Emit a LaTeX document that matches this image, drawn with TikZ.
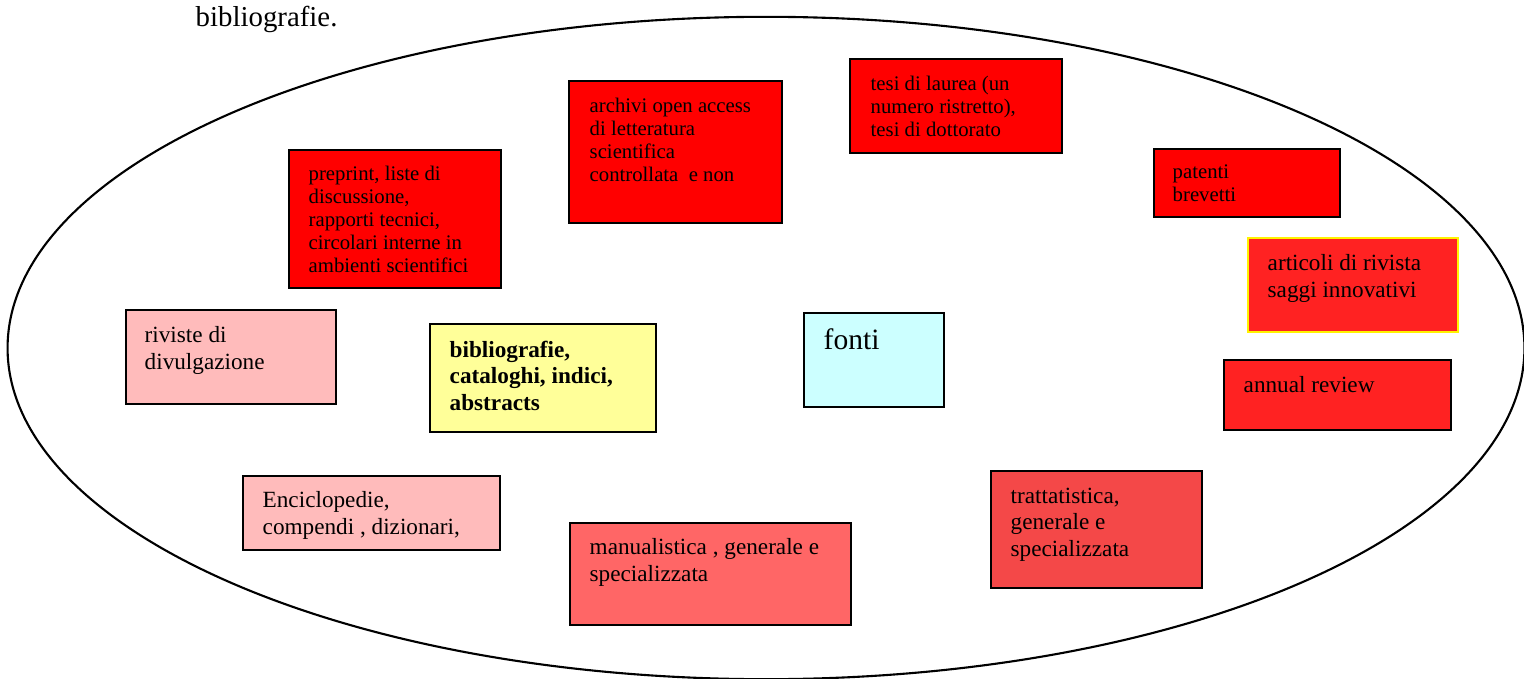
\documentclass[tikz,border=0pt]{standalone}
\usepackage{fontspec}
\setmainfont{Liberation Serif}
\definecolor{rosso}{RGB}{255,0,0}
\definecolor{rossochiaro}{RGB}{255,34,34}
\definecolor{rossotratt}{RGB}{244,72,72}
\definecolor{rossomanu}{RGB}{255,102,102}
\definecolor{rosa}{RGB}{255,187,187}
\definecolor{giallo}{RGB}{255,255,153}
\definecolor{azzurro}{RGB}{204,255,255}
\tikzset{
  srcbox/.style={draw=black, line width=0.6pt, anchor=north west, inner sep=0pt},
  smalltxt/.style={anchor=north west, inner sep=0pt, align=left, font=\fontsize{5.9}{6.6}\selectfont},
  bigtxt/.style={anchor=north west, inner sep=0pt, align=left, font=\fontsize{6.6}{7.6}\selectfont}
}
\begin{document}
\begin{tikzpicture}[x=0.01cm, y=-0.01cm]
        \useasboundingbox (0,0) rectangle (1524,679);
        \draw[line width=0.6pt] (766,348) ellipse [x radius=7.58cm, y radius=3.31cm];

        \node[anchor=north west, inner sep=0pt, font=\fontsize{8.2}{9.5}\selectfont] (titolo) at (195,5) {bibliografie.};

        % fonti rosse
        \node[srcbox, fill=rosso, minimum width=2.12cm, minimum height=1.38cm] (preprint) at (288,149) {};
        \node[smalltxt] (preprinttxt) at (308,165) {preprint, liste di\\discussione,\\rapporti tecnici,\\circolari interne in\\ambienti scientifici};

        \node[srcbox, fill=rosso, minimum width=2.13cm, minimum height=1.42cm] (archivi) at (568,80) {};
        \node[smalltxt] (archivitxt) at (589,97) {archivi open access\\di letteratura\\scientifica\\controllata\ \ e non};

        \node[srcbox, fill=rosso, minimum width=2.12cm, minimum height=0.94cm] (tesi) at (849,58) {};
        \node[smalltxt] (tesitxt) at (870,75) {tesi di laurea (un\\numero ristretto),\\tesi di dottorato};

        \node[srcbox, fill=rosso, minimum width=1.86cm, minimum height=0.68cm] (patenti) at (1153,148) {};
        \node[smalltxt] (patentitxt) at (1172,164) {patenti\\brevetti};

        \node[srcbox, draw=yellow, fill=rossochiaro, minimum width=2.10cm, minimum height=0.94cm] (articoli) at (1247,237) {};
        \node[bigtxt] (articolitxt) at (1267,254) {articoli di rivista\\saggi innovativi};

        \node[srcbox, fill=rossochiaro, minimum width=2.27cm, minimum height=0.70cm] (annual) at (1223,359) {};
        \node[bigtxt] (annualtxt) at (1243,376) {annual review};

        \node[srcbox, fill=rossotratt, minimum width=2.11cm, minimum height=1.17cm] (tratt) at (990,470) {};
        \node[bigtxt] (tratttxt) at (1010,487) {trattatistica,\\generale e\\specializzata};

        \node[srcbox, fill=rossomanu, minimum width=2.81cm, minimum height=1.02cm] (manu) at (569,522) {};
        \node[bigtxt] (manutxt) at (589,538) {manualistica , generale e\\specializzata};

        % fonti rosa
        \node[srcbox, fill=rosa, minimum width=2.10cm, minimum height=0.94cm] (riviste) at (125,309) {};
        \node[bigtxt] (rivistetxt) at (144,326) {riviste di\\divulgazione};

        \node[srcbox, fill=rosa, minimum width=2.57cm, minimum height=0.74cm] (enciclo) at (242,475) {};
        \node[bigtxt] (enciclotxt) at (262,491) {Enciclopedie,\\compendi , dizionari,};

        % strumenti
        \node[srcbox, fill=giallo, minimum width=2.26cm, minimum height=1.08cm] (biblio) at (429,323) {};
        \node[bigtxt, font=\fontsize{6.6}{7.6}\selectfont\bfseries] (bibliotxt) at (449,340) {bibliografie,\\cataloghi, indici,\\abstracts};

        \node[srcbox, fill=azzurro, minimum width=1.40cm, minimum height=0.94cm] (fonti) at (803,312) {};
        \node[anchor=north west, inner sep=0pt, font=\fontsize{8.4}{9.5}\selectfont] (fontitxt) at (823,328) {fonti};
\end{tikzpicture}
\end{document}
